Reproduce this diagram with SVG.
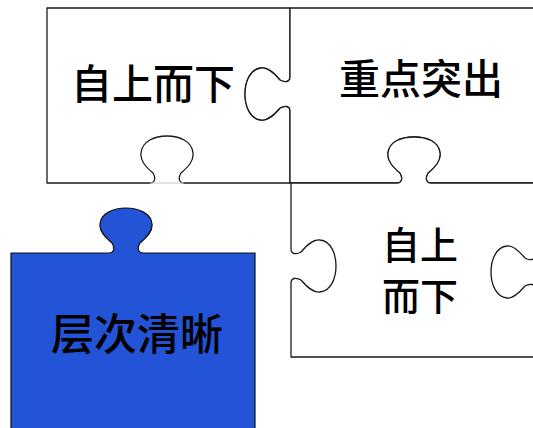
<svg xmlns="http://www.w3.org/2000/svg" width="533" height="428" viewBox="0 0 533 428">
<style>
.pc{fill:#fff;stroke:#1a1a1a;stroke-width:1.3;stroke-linejoin:round}
.blue{fill:#2353d6;stroke:#111;stroke-width:1.2}
.t{font-family:"Noto Sans CJK SC",sans-serif;font-weight:500;fill:#000;text-anchor:middle}
</style>
<rect width="533" height="428" fill="#fff"/>
<g id="connectors"/>
<g id="piece1">
<path class="pc" d="M47,8 V183 H150 C155,183 156,178 153,173 C146,167 140,161 141,153 C142,141 155,136 167,136 C179,136 192,141 193,153 C194,161 188,167 181,173 C178,178 179,183 184,183 H290 V111 C290,106 285,105 280,108 C274,115 268,121 261,120 C250,119 245,106 245,94 C245,82 250,69 261,68 C268,67 274,73 280,80 C285,83 290,82 290,77 V8 Z"/>
<line x1="150" y1="183" x2="184" y2="183" stroke="#c8c8c8" stroke-width="1"/>
<text class="t" x="153" y="99" font-size="41">自上而下</text>
</g>
<g id="piece2">
<path class="pc" d="M290,8 H540 V183 H431 C426,183 425,178 428,173 C435,167 441,161 440,153 C439,141 426,137 414,137 C402,137 389,141 388,153 C387,161 393,167 400,173 C403,178 402,183 397,183 H290 V111 C290,106 285,105 280,108 C274,115 268,121 261,120 C250,119 245,106 245,94 C245,82 250,69 261,68 C268,67 274,73 280,80 C285,83 290,82 290,77 V8 Z"/>
<text class="t" x="421" y="94" font-size="41">重点突出</text>
</g>
<g id="piece3">
<path class="pc" d="M291,183 H397 C402,183 403,178 400,173 C393,167 387,161 388,153 C389,141 402,137 414,137 C426,137 439,141 440,153 C441,161 435,167 428,173 C425,178 426,183 431,183 H535 V255 C535,260 530,261 525,258 C519,251 513,245 507,246 C496,247 491,260 491,272 C491,284 496,297 507,298 C513,299 519,293 525,286 C530,283 535,284 535,289 V357 H291 V283 C291,278 296,277 301,280 C307,287 313,293 320,292 C331,291 336,278 336,266 C336,254 331,241 320,240 C313,239 307,245 301,252 C296,255 291,254 291,249 V183 Z"/>
<text class="t" x="420" y="259" font-size="38">自上</text>
<text class="t" x="420" y="310" font-size="38">而下</text>
</g>
<g id="piece4">
<path class="blue" d="M11,253 H109 C114,253 115,248 112,243 C105,237 99,231 100,224 C101,213 114,208 126,208 C138,208 151,213 152,224 C153,231 147,237 140,243 C137,248 138,253 143,253 H255 V435 H11 Z"/>
<text class="t" x="137" y="350" font-size="43">层次清晰</text>
</g>
</svg>
